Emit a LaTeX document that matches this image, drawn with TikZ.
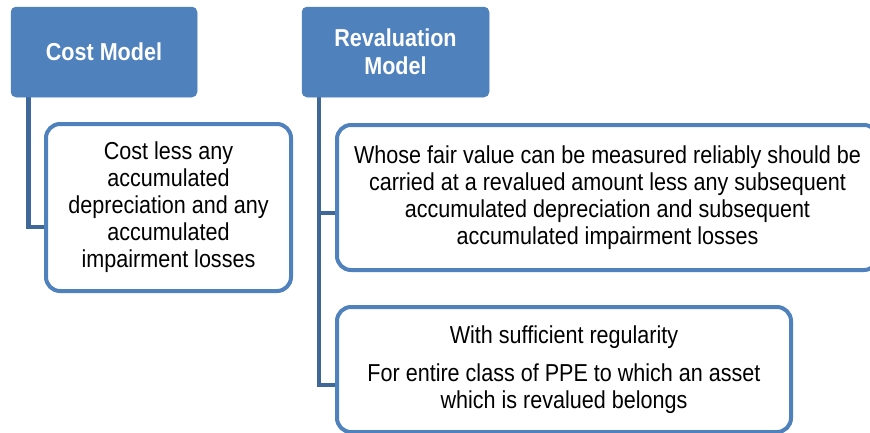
\documentclass[tikz,border=0pt]{standalone}
\usepackage{fontspec}
\setmainfont[FakeStretch=0.88]{Liberation Sans}
\usetikzlibrary{backgrounds}
\definecolor{boxblue}{HTML}{4F81BD}
\definecolor{connblue}{HTML}{3F6898}
\tikzset{
  titlebox/.style={draw=boxblue, fill=boxblue, line width=0.5pt, rounded corners=5pt,
    inner sep=0pt, align=center, text=white,
    font=\fontsize{24.5pt}{28pt}\selectfont\bfseries},
  childbox/.style={draw=boxblue, fill=white, line width=4pt, rounded corners=14pt,
    inner sep=0pt, align=center, text=black,
    font=\fontsize{24.5pt}{27pt}\selectfont},
  conn/.style={draw=connblue, line width=4.5pt}
}
\begin{document}
\begin{tikzpicture}[x=1pt, y=-1pt]
\useasboundingbox (0,0) rectangle (870,432);
\clip (0,0) rectangle (870,432);
\node[titlebox, minimum width=186pt, minimum height=90pt] (t1) at (104,52) {Cost Model};
\node[titlebox, minimum width=187pt, minimum height=90pt] (t2) at (395.5,52) {Revaluation\\Model};
\node[childbox, minimum width=245pt, minimum height=167pt] (c1) at (168.5,207.5)
  {Cost less any\\accumulated\\depreciation and any\\accumulated\\impairment losses};
\node[childbox, minimum width=541pt, minimum height=145pt] (c2) at (607.5,197.5)
  {Whose fair value can be measured reliably should be\\carried at a revalued amount less any subsequent\\accumulated depreciation and subsequent\\accumulated impairment losses};
\node[childbox, minimum width=454pt, minimum height=125pt] (c3) at (564,369.5)
  {With sufficient regularity\\[11pt]For entire class of PPE to which an asset\\which is revalued belongs};
\begin{scope}[on background layer]
\draw[conn] ([xshift=17.5pt]t1.south west) |- ([yshift=-19.5pt]c1.west);
\draw[conn] ([xshift=17pt]t2.south west) |- ([yshift=-15.5pt]c2.west);
\draw[conn] ([xshift=17pt]t2.south west) |- ([yshift=-15.5pt]c3.west);
\end{scope}
\end{tikzpicture}
\end{document}
